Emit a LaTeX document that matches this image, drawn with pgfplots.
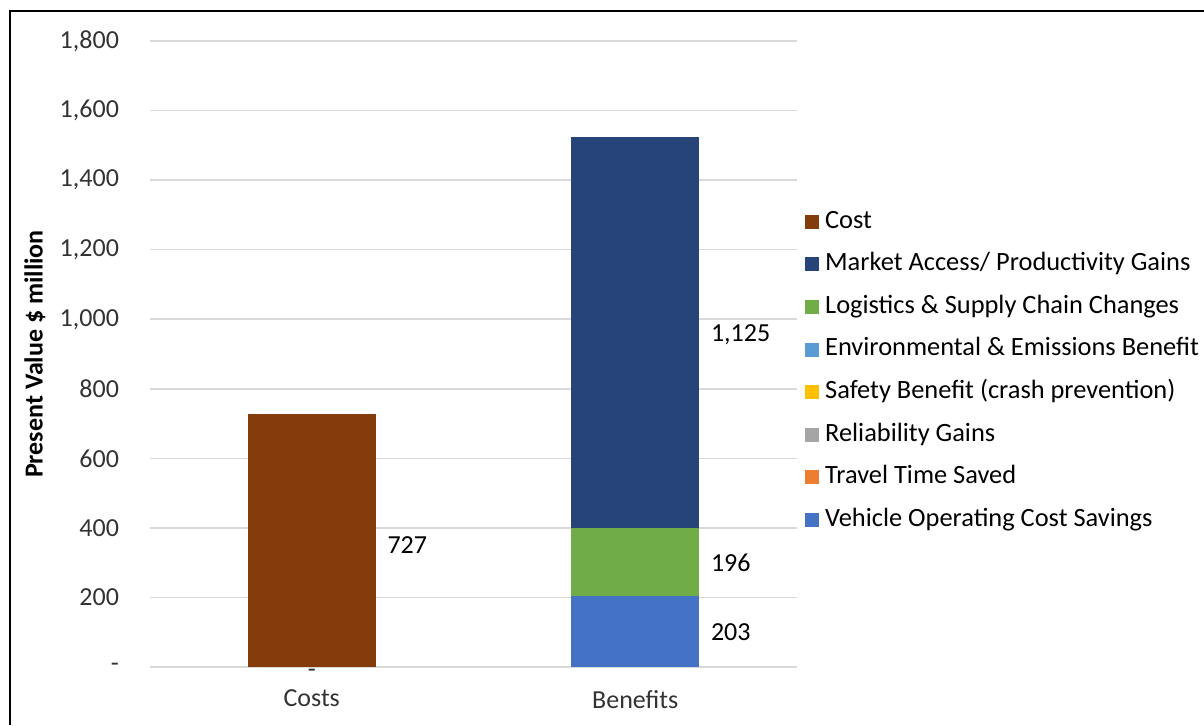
\documentclass[border=0pt]{standalone}
\usepackage{pgfplots}
\pgfplotsset{compat=1.18}
\usepackage{fontspec}
\setmainfont{Carlito}

\definecolor{costbrown}{HTML}{843C0C}
\definecolor{marketblue}{HTML}{264478}
\definecolor{logigreen}{HTML}{70AD47}
\definecolor{envblue}{HTML}{5B9BD5}
\definecolor{safeyellow}{HTML}{FFC000}
\definecolor{relgray}{HTML}{A5A5A5}
\definecolor{travelorange}{HTML}{ED7D31}
\definecolor{vocblue}{HTML}{4472C4}
\definecolor{gridgray}{HTML}{D9D9D9}
\definecolor{txt}{HTML}{333333}

\begin{document}
\begin{tikzpicture}[font=\fontsize{13}{15.5}\selectfont]
  \useasboundingbox (0,0) rectangle (602pt,362.5pt);
  % frame of the original figure (clipped at right and bottom)
  \draw[line width=1pt] (5pt,0) -- (5pt,357pt) -- (602pt,357pt);

  \begin{axis}[
      at={(75pt,29pt)}, anchor=south west,
      scale only axis,
      width=323.5pt, height=313pt,
      clip=false,
      ybar stacked,
      bar width=64pt,
      xmin=-0.5, xmax=1.5,
      ymin=0, ymax=1800,
      xtick={0,1},
      xticklabels={Costs,Benefits},
      ytick={0,200,...,1800},
      yticklabels={-,200,400,600,800,{1,000},{1,200},{1,400},{1,600},{1,800}},
      major tick length=0pt,
      axis line style={draw=none},
      ymajorgrids,
      grid style={gridgray, line width=0.8pt},
      tick label style={text=txt, font=\fontsize{13}{15.5}\selectfont},
      xticklabel style={yshift=-8pt},
      yticklabel style={xshift=-12pt},
      ylabel={\bfseries Present Value \$ million},
      ylabel style={at={(axis description cs:-0.178,0.5)}, anchor=center, text=black},
      reverse legend,
      legend image code/.code={\fill[#1,draw=none] (0pt,-3.5pt) rectangle (7pt,3.5pt);},
      legend style={
        at={(axis description cs:1.012,0.473)}, anchor=west,
        draw=none, fill=none, inner sep=0pt,
        row sep=9.0pt,
        nodes={text height=9.3pt, text depth=3pt, inner ysep=0pt, inner xsep=3pt, text=black},
        font=\fontsize{13.2}{15.5}\selectfont,
      },
      legend cell align=left,
    ]
    % bottom to top
    \addplot[fill=vocblue, draw=none] coordinates {(0,0) (1,203)};
    \addlegendentry{Vehicle Operating Cost Savings}
    \addplot[fill=travelorange, draw=none] coordinates {(0,0) (1,0)};
    \addlegendentry{Travel Time Saved}
    \addplot[fill=relgray, draw=none] coordinates {(0,0) (1,0)};
    \addlegendentry{Reliability Gains}
    \addplot[fill=safeyellow, draw=none] coordinates {(0,0) (1,0)};
    \addlegendentry{Safety Benefit (crash prevention)}
    \addplot[fill=envblue, draw=none] coordinates {(0,0) (1,0)};
    \addlegendentry{Environmental \& Emissions Benefit}
    \addplot[fill=logigreen, draw=none] coordinates {(0,0) (1,196)};
    \addlegendentry{Logistics \& Supply Chain Changes}
    \addplot[fill=marketblue, draw=none] coordinates {(0,0) (1,1125)};
    \addlegendentry{Market Access/ Productivity Gains}
    \addplot[fill=costbrown, draw=none] coordinates {(0,727) (1,0)};
    \addlegendentry{Cost}

    % data labels
    \node[anchor=west, xshift=2pt] at (axis cs:0.2,352) {727};
    \node[anchor=west, xshift=2pt] at (axis cs:1.2,955) {1,125};
    \node[anchor=west, xshift=2pt] at (axis cs:1.2,301) {196};
    \node[anchor=west, xshift=2pt] at (axis cs:1.2,101) {203};
    \node[anchor=north, inner sep=1pt, text=txt] at (axis cs:0,0) {-};
  \end{axis}
\end{tikzpicture}
\end{document}
